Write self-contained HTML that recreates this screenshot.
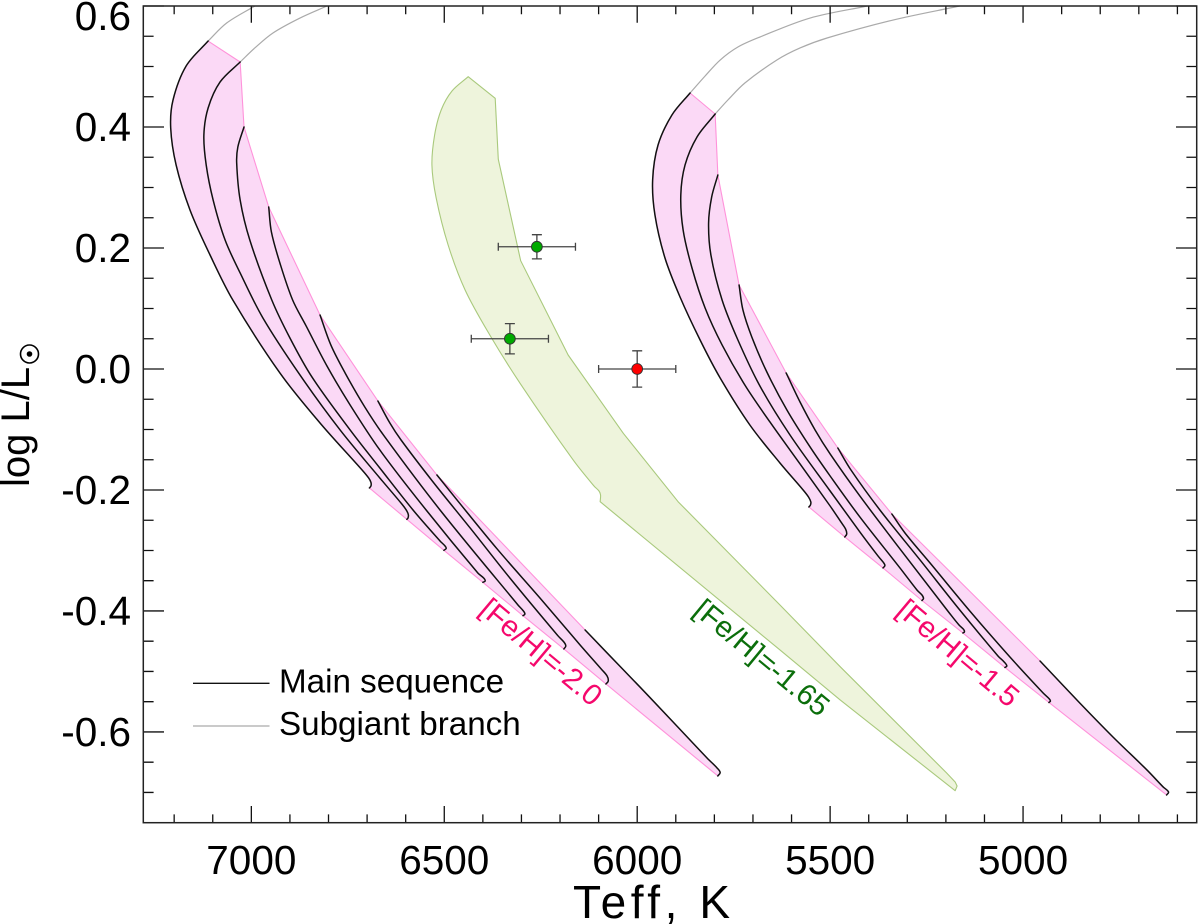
<!DOCTYPE html>
<html lang="en">
<head>
<meta charset="utf-8">
<title>HR diagram: log L/Lsun vs Teff</title>
<style>
html,body{margin:0;padding:0;background:#fff;}
svg{display:block;font-family:"Liberation Sans",Arial,sans-serif;}
</style>
</head>
<body>
<svg id="chart" xmlns="http://www.w3.org/2000/svg" width="1200" height="924" viewBox="0 0 1200 924">
  <rect x="0" y="0" width="1200" height="924" fill="#ffffff"/>
  <g id="bands"></g>
  <g id="tracks"></g>
  <g id="points"></g>
  <g id="axes"></g>

  <text x="573" y="918" font-size="46" textLength="157" lengthAdjust="spacing" fill="#000">Teff, K</text>
  <text transform="translate(29,487) rotate(-90)" font-size="40" fill="#000">log L/L</text>
  <g>
    <circle cx="29.5" cy="354" r="9" fill="none" stroke="#000" stroke-width="1.6"/>
    <circle cx="29.5" cy="354" r="2.8" fill="#000"/>
  </g>

  <g>
    <line x1="193" y1="683.3" x2="269.5" y2="683.3" stroke="#111" stroke-width="1.3"/>
    <text x="279" y="692.5" font-size="33.2" fill="#000">Main sequence</text>
    <line x1="193" y1="726" x2="269.5" y2="726" stroke="#aaaaaa" stroke-width="1.3"/>
    <text x="279" y="735" font-size="33.2" fill="#000">Subgiant branch</text>
  </g>

  <text transform="translate(478,612) rotate(40)" font-size="29.5" fill="#f5086c">[Fe/H]=-2.0</text>
  <text transform="translate(692,613) rotate(39.5)" font-size="29.5" fill="#0b6e0b">[Fe/H]=-1.65</text>
  <text transform="translate(895,613) rotate(40)" font-size="29.5" fill="#f5086c">[Fe/H]=-1.5</text>
</svg>

<script>
// ---- axis ranges and ticks ----
const teffMin = 4550, teffMax = 7280;
const logLMin = -0.75, logLMax = 0.6;
const xMajorTicks = [7000, 6500, 6000, 5500, 5000];
const xMinorTicks = [7200, 7100, 6900, 6800, 6700, 6600, 6400, 6300, 6200, 6100, 5900, 5800, 5700, 5600, 5400, 5300, 5200, 5100, 4900, 4800, 4700, 4600];
const yMajorTicks = [0.6, 0.4, 0.2, 0.0, -0.2, -0.4, -0.6];
const yMinorTicks = [0.55, 0.5, 0.45, 0.35, 0.3, 0.25, 0.15, 0.1, 0.05, -0.05, -0.1, -0.15, -0.25, -0.3, -0.35, -0.45, -0.5, -0.55, -0.65, -0.7];
const yTickLabels = ["0.6", "0.4", "0.2", "0.0", "-0.2", "-0.4", "-0.6"];
const xTickLabels = ["7000", "6500", "6000", "5500", "5000"];

// ---- [Fe/H]=-2.0 main-sequence tracks: [Teff, log L] ----
const lowTrack1 = [[7112,.5421],[7169,.5008],[7203,.4446],[7209,.3983],[7195,.3372],[7159,.2628],[7107,.1884],[7048,.1140],[6926,-.0066],[6822,-.0893],[6713,-.1670],[6696,-.1802],[6690,-.1876],[6690,-.1934],[6694,-.1967]];
const lowTrack2 = [[7029,.5074],[7081,.4744],[7112,.4314],[7123,.3868],[7117,.3372],[7099,.2793],[7068,.2132],[7029,.1587],[6970,.0843],[6874,-.0099],[6770,-.1008],[6667,-.1802],[6610,-.2232],[6597,-.2347],[6593,-.2413],[6594,-.2463],[6597,-.2485]];
const lowTrack3 = [[7019,.4000],[7035,.3669],[7038,.3405],[7029,.2793],[7004,.2132],[6947,.1140],[6900,.0512],[6843,-.0132],[6744,-.1008],[6667,-.1637],[6581,-.2331],[6511,-.2843],[6498,-.2926],[6495,-.2967],[6501,-.2997]];
const lowTrack4 = [[6955,.2678],[6948,.2264],[6926,.1752],[6893,.1140],[6858,.0711],[6804,.0049],[6744,-.0595],[6667,-.1339],[6547,-.2331],[6413,-.3372],[6398,-.3455],[6394,-.3504],[6400,-.3526]];
const lowTrack5 = [[6822,.0892],[6794,.0397],[6757,-.0066],[6706,-.0628],[6654,-.1124],[6511,-.2331],[6309,-.3901],[6296,-.3992],[6291,-.4050],[6296,-.4078]];
const lowTrack6 = [[6672,-.0529],[6641,-.0893],[6612,-.1174],[6529,-.1868],[6433,-.2628],[6330,-.3455],[6205,-.4413],[6190,-.4513],[6185,-.4579],[6190,-.4628]];
const lowTrack7 = [[6519,-.1752],[6467,-.2165],[6363,-.2975],[6252,-.3785],[6148,-.4562],[6091,-.4975],[6078,-.5075],[6075,-.5157],[6081,-.5207]];
const lowTrack8 = [[6135,-.4314],[6078,-.4694],[5993,-.5256],[5907,-.5835],[5819,-.6430],[5793,-.6595],[5785,-.6670],[5791,-.6727]];
const lowSubgiant1 = [[7112,.5421],[7064,.5719],[6991,.6]];
const lowSubgiant2 = [[7029,.5074],[6991,.5306],[6944,.5554],[6874,.5801],[6804,.6]];

// ---- [Fe/H]=-1.5 main-sequence tracks: [Teff, log L] ----
const highTrack1 = [[5863,.4562],[5910,.4198],[5946,.3702],[5960,.3124],[5954,.2545],[5928,.1834],[5889,.1190],[5837,.0479],[5785,-.0149],[5708,-.0926],[5630,-.1554],[5570,-.2000],[5556,-.2116],[5550,-.2199],[5551,-.2248],[5555,-.2281]];
const highTrack2 = [[5798,.4215],[5845,.3835],[5876,.3372],[5887,.2876],[5881,.2297],[5858,.1669],[5824,.1008],[5780,.0397],[5721,-.0265],[5656,-.0876],[5578,-.1570],[5500,-.2265],[5472,-.2529],[5460,-.2645],[5457,-.2728],[5462,-.2777]];
const highTrack3 = [[5791,.3206],[5807,.2843],[5815,.2413],[5809,.1884],[5780,.1140],[5739,.0479],[5682,-.0281],[5604,-.1091],[5500,-.2017],[5423,-.2694],[5376,-.3091],[5363,-.3190],[5358,-.3248],[5363,-.3289]];
const highTrack4 = [[5736,.1388],[5726,.0975],[5703,.0529],[5664,-.0050],[5612,-.0678],[5552,-.1289],[5500,-.1769],[5423,-.2446],[5319,-.3289],[5275,-.3653],[5262,-.3736],[5258,-.3794],[5262,-.3827]];
const highTrack5 = [[5614,-.0066],[5578,-.0546],[5539,-.1008],[5500,-.1405],[5423,-.2099],[5319,-.2975],[5189,-.4050],[5166,-.4232],[5154,-.4306],[5152,-.4347],[5156,-.4364]];
const highTrack6 = [[5480,-.1306],[5446,-.1670],[5371,-.2331],[5267,-.3157],[5164,-.3984],[5065,-.4744],[5049,-.4843],[5042,-.4909],[5047,-.4934]];
const highTrack7 = [[5340,-.2397],[5306,-.2711],[5241,-.3207],[5138,-.4000],[5034,-.4761],[4948,-.5356],[4933,-.5447],[4929,-.5488],[4933,-.5513]];
const highTrack8 = [[4956,-.4827],[4853,-.5521],[4767,-.6083],[4679,-.6628],[4637,-.6909],[4623,-.6992],[4628,-.7042]];
const highSubgiant1 = [[5863,.4562],[5824,.4843],[5785,.5107],[5739,.5322],[5682,.5487],[5552,.5801],[5404,.6]];
const highSubgiant2 = [[5798,.4215],[5765,.4446],[5721,.4727],[5638,.5107],[5578,.5306],[5508,.5471],[5337,.5768],[5164,.6]];

// ---- [Fe/H]=-1.65 band outline: [Teff, log L] ----
const midUpperEdge = [[6438,.4831],[6368,.4474],[6360,.3466],[6302,.1790],[6179,.0231],[6036,-.1063],[5894,-.2194],[5630,-.3901],[5474,-.4921],[5198,-.6678],[5176,-.6827],[5171,-.6893],[5176,-.6971]];
const midLowerEdge = [[5176,-.6971],[5474,-.5471],[5630,-.4645],[6096,-.2194]];
const midLeftEdge = [[6096,-.2194],[6095,-.2083],[6099,-.2017],[6112,-.1934],[6166,-.1504],[6304,-.0232],[6382,.0562],[6446,.1306],[6490,.2049],[6521,.2826],[6532,.3372],[6525,.3868],[6508,.4281],[6480,.4595],[6438,.4831]];

// ---- observed stars ----
const greenTeff = [6260, 6330];
const greenLogL = [0.202, 0.05];
const greenTeffErr = [100, 100];
const greenLogLErr = [0.02, 0.025];
const redTeff = [6000];
const redLogL = [0];
const redTeffErr = [100];
const redLogLErr = [0.03];

// ---- axis functions ----
const plotLeft = 143.3, plotRight = 1196.7, plotTop = 6, plotBottom = 822.7;
function sx(t) { return plotLeft + (teffMax - t) / (teffMax - teffMin) * (plotRight - plotLeft); }
function sy(v) { return plotTop + (logLMax - v) / (logLMax - logLMin) * (plotBottom - plotTop); }
const NS = "http://www.w3.org/2000/svg";
function make(tag, parent, attrs) {
  const el = document.createElementNS(NS, tag);
  for (const k in attrs) el.setAttribute(k, attrs[k]);
  parent.appendChild(el);
  return el;
}
function toPx(pts) { return pts.map(p => [sx(p[0]), sy(p[1])]); }
function f(n) { return n.toFixed(2); }
// Chord-length spline through pixel points; continues an open path.
function smoothSeg(px) {
  let d = "";
  const n = px.length;
  function tan(i) {
    const a = px[Math.max(0, i - 1)], b = px[Math.min(n - 1, i + 1)];
    const dx = b[0] - a[0], dy = b[1] - a[1], l = Math.hypot(dx, dy) || 1;
    return [dx / l, dy / l];
  }
  for (let i = 0; i < n - 1; i++) {
    const p = px[i], q = px[i + 1], L = Math.hypot(q[0] - p[0], q[1] - p[1]) / 3;
    const t0 = tan(i), t1 = tan(i + 1);
    d += "C" + f(p[0] + t0[0] * L) + " " + f(p[1] + t0[1] * L) + " " + f(q[0] - t1[0] * L) + " " + f(q[1] - t1[1] * L) + " " + f(q[0]) + " " + f(q[1]);
  }
  return d;
}
function lineSeg(px) { return px.map(p => "L" + f(p[0]) + " " + f(p[1])).join(""); }
function moveTo(p) { return "M" + f(p[0]) + " " + f(p[1]); }

const bandsG = document.getElementById("bands");
const tracksG = document.getElementById("tracks");
const pointsG = document.getElementById("points");
const axesG = document.getElementById("axes");

// Band outline built from the track arrays themselves.
function bandPath(trs) {
  const last = trs[trs.length - 1];
  const starts = trs.map(t => toPx(t)[0]);
  const ends = trs.map(t => { const q = toPx(t); return q[q.length - 1]; }).reverse();
  const first = toPx(trs[0]).reverse();
  let d = moveTo(starts[0]) + lineSeg(starts.slice(1));
  d += smoothSeg(toPx(last));
  d += lineSeg(ends.slice(1));
  d += smoothSeg(first);
  return d + "Z";
}
const lowTracks = [lowTrack1, lowTrack2, lowTrack3, lowTrack4, lowTrack5, lowTrack6, lowTrack7, lowTrack8];
const highTracks = [highTrack1, highTrack2, highTrack3, highTrack4, highTrack5, highTrack6, highTrack7, highTrack8];
const bandFill = "#fbd9f6", bandStroke = "#ff92da";

const lowBand = make("path", bandsG, { d: bandPath(lowTracks), fill: bandFill, stroke: bandStroke, "stroke-width": 1.1, "stroke-linejoin": "round" });



const highBand = make("path", bandsG, { d: bandPath(highTracks), fill: bandFill, stroke: bandStroke, "stroke-width": 1.1, "stroke-linejoin": "round" });



const midD = moveTo(toPx(midUpperEdge)[0]) + lineSeg(toPx(midUpperEdge).slice(1)) + lineSeg(toPx(midLowerEdge).slice(1)) + smoothSeg(toPx(midLeftEdge)) + "Z";
const midBand = make("path", bandsG, { d: midD, fill: "#eef4dc", stroke: "#a9c97c", "stroke-width": 1.1, "stroke-linejoin": "round" });



// Subgiant branches
[lowSubgiant1, lowSubgiant2, highSubgiant1, highSubgiant2].forEach(s => {
  const q = toPx(s);
  const sg = make("path", tracksG, { d: moveTo(q[0]) + smoothSeg(q), fill: "none", stroke: "#aaaaaa", "stroke-width": 1.2 });
  
  
});

// Main-sequence tracks
lowTracks.concat(highTracks).forEach(t => {
  const q = toPx(t);
  const ms = make("path", tracksG, { d: moveTo(q[0]) + smoothSeg(q), fill: "none", stroke: "#111111", "stroke-width": 1.5, "stroke-linecap": "round" });
  
  
});

// Stars
function drawStars(teff, logl, te, le, color) {
  teff.forEach((t, i) => {
    const cx = sx(t), cy = sy(logl[i]);
    const x0 = sx(t + te[i]), x1 = sx(t - te[i]), y0 = sy(logl[i] + le[i]), y1 = sy(logl[i] - le[i]);
    const err = make("path", pointsG, {
      d: "M" + f(x0) + " " + f(cy) + "H" + f(x1) + "M" + f(x0) + " " + f(cy - 4) + "V" + f(cy + 4) + "M" + f(x1) + " " + f(cy - 4) + "V" + f(cy + 4) +
         "M" + f(cx) + " " + f(y0) + "V" + f(y1) + "M" + f(cx - 5) + " " + f(y0) + "H" + f(cx + 5) + "M" + f(cx - 5) + " " + f(y1) + "H" + f(cx + 5),
      fill: "none", stroke: "#444444", "stroke-width": 1.3
    });
    
    
    const dot = make("circle", pointsG, { cx: f(cx), cy: f(cy), r: 5.4, fill: color, stroke: "#333333", "stroke-width": 0.9 });
    
    
  });
}
drawStars(greenTeff, greenLogL, greenTeffErr, greenLogLErr, "#00aa00");
drawStars(redTeff, redLogL, redTeffErr, redLogLErr, "#ff0000");

// Ticks
let tickD = "";
xMajorTicks.forEach(t => { const x = f(sx(t)); tickD += "M" + x + " " + plotBottom + "v-16.7M" + x + " " + plotTop + "v16.7"; });
xMinorTicks.forEach(t => { const x = f(sx(t)); tickD += "M" + x + " " + plotBottom + "v-8.3M" + x + " " + plotTop + "v8.3"; });
yMajorTicks.forEach(v => { const y = f(sy(v)); tickD += "M" + plotLeft + " " + y + "h20.7M" + plotRight + " " + y + "h-20.7"; });
yMinorTicks.forEach(v => { const y = f(sy(v)); tickD += "M" + plotLeft + " " + y + "h10.3M" + plotRight + " " + y + "h-10.3"; });
const ticks = make("path", axesG, { d: tickD, fill: "none", stroke: "#111111", "stroke-width": 1.3 });



const frame = make("rect", axesG, { x: plotLeft, y: plotTop, width: plotRight - plotLeft, height: plotBottom - plotTop, fill: "none", stroke: "#222222", "stroke-width": 1.5 });



xMajorTicks.forEach((t, i) => {
  const lab = make("text", axesG, { x: f(sx(t)), y: 874, "font-size": 40.5, "text-anchor": "middle", fill: "#000" });
  lab.textContent = xTickLabels[i];
  
  
});
yMajorTicks.forEach((v, i) => {
  const lab = make("text", axesG, { x: 131, y: f(Math.max(sy(v) + 14, 30)), "font-size": 40.5, "text-anchor": "end", fill: "#000" });
  lab.textContent = yTickLabels[i];
  
  
});
</script>
</body>
</html>
